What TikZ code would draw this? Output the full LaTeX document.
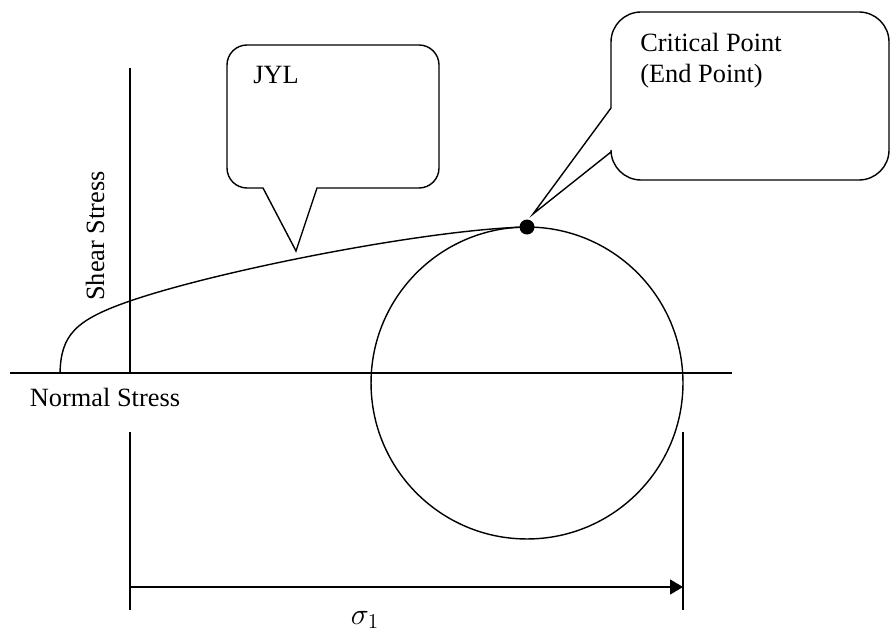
\documentclass[tikz,border=0pt]{standalone}
\usepackage{fontspec}
\setmainfont{Liberation Serif}
\usetikzlibrary{arrows.meta}

\begin{document}
\begin{tikzpicture}[
				x=0.02cm,y=-0.02cm,
				line/.style={
					draw=black,
					line width=0.8pt
				},
				label/.style={
					inner sep=0pt,
					font=\fontsize{15}{17.5}\selectfont
				},
				mohrcircle/.style={
					circle,
					line,
					inner sep=0pt,
					outer sep=0pt,
					minimum size=6.24cm
				},
				dot/.style={
					circle,
					fill=black,
					inner sep=0pt,
					minimum size=0.3cm
				},
				dim/.style={
					line,
					-{Triangle[length=0.26cm,width=0.3cm]}
				}
				]
				\useasboundingbox (0,0) rectangle (891,641);
				
				\coordinate (xl) at (10,373);
				\coordinate (xr) at (732,373);
				\coordinate (yt) at (130,68);
				\coordinate (o) at (130,373);
				\coordinate (start) at (60,373);
				\coordinate (lt) at (130,432);
				\coordinate (lb) at (130,610);
				\coordinate (rt) at (683,432);
				\coordinate (rb) at (683,610);
				\coordinate (al) at (130,587);
				\coordinate (ar) at (683,587);
				
				\node[mohrcircle] (mohr) at (527,383) {};
				\node[dot] (crit) at (mohr.north) {};
				
				\node[label] (normal) at (105,397) {Normal Stress};
				\node[label,rotate=90] (shear) at (95,236) {Shear Stress};
				\node[label,font=\fontsize{17}{20}\selectfont] (sigma) at (365,620) {$\sigma_1$};
				
				\draw[line] (xl) -- (xr);
				\draw[line] (o) -- (yt);
				\draw[line] (lt) -- (lb);
				\draw[line] (rt) -- (rb);
				\draw[dim] (al) -- (ar);
				
				\draw[line] (start) .. controls (61,335) and (75,320) .. (130,301)
					.. controls (220,270) and (430,229) .. (crit.center);
				
				\coordinate (jyltip) at (296,251);
				\draw[line,fill=white] (jyltip) -- (317,188) [rounded corners=0.4cm] -- (439,188) -- (439,45)
					-- (227,45) -- (227,188) [sharp corners] -- (263,188) -- cycle;
				\node[label,anchor=north west] (jyl) at (253,66) {JYL};
				
				\coordinate (crittip) at (533,214);
				\draw[line,fill=white] (crittip) -- (611,152) [rounded corners=0.6cm] -- (611,180) -- (889,180)
					-- (889,12) -- (611,12) [sharp corners] -- (611,108) -- cycle;
				\node[label,anchor=north west,align=left] (critical) at (640,33) {Critical Point\\(End Point)};
			\end{tikzpicture}
\end{document}
